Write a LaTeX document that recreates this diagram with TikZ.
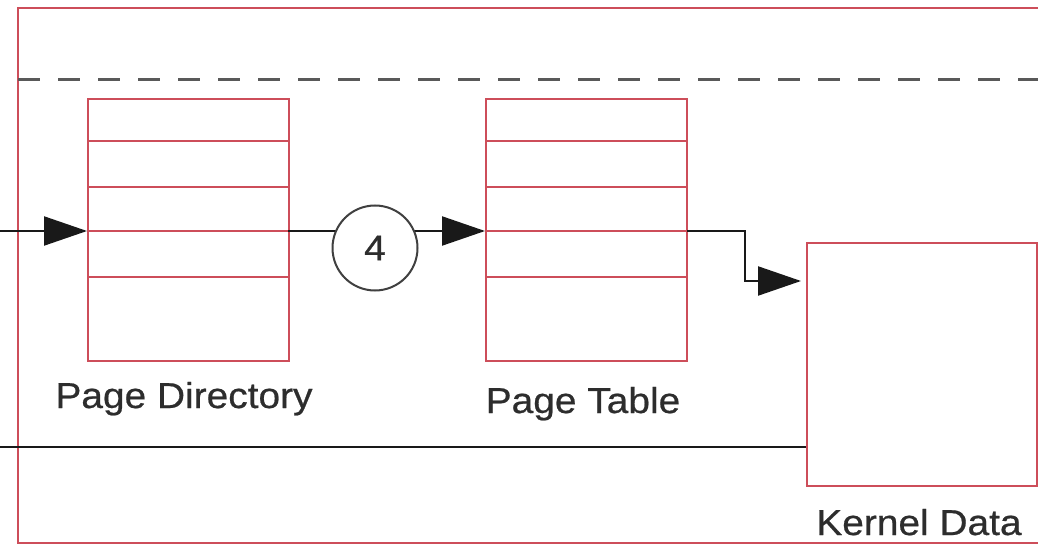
\documentclass[tikz,border=0pt]{standalone}
\usepackage{fontspec}
\usetikzlibrary{arrows.meta}
\newfontfamily\lblfont[FakeStretch=1.08,FakeBold=0.6]{Liberation Sans}
\definecolor{boxred}{RGB}{205,78,90}
\definecolor{txtgray}{RGB}{45,45,45}
\tikzset{
  tablebox/.style={draw=boxred, line width=2pt, minimum width=201pt, minimum height=262pt, anchor=north west, inner sep=0pt},
  rowline/.style={draw=boxred, line width=2pt},
  conn/.style={draw=black!90, line width=2.2pt},
  tip/.style={-{Triangle[length=43pt,width=29pt]}},
  lbl/.style={font=\lblfont\fontsize{36}{40}\selectfont, text=txtgray, anchor=base, inner sep=0pt},
  stepcircle/.style={circle, draw=black!75, line width=2pt, fill=white, minimum size=85pt, inner sep=0pt, font=\lblfont\fontsize{36}{40}\selectfont, text=txtgray}
}
\begin{document}
\begin{tikzpicture}[x=1pt,y=-1pt]
\useasboundingbox (0,0) rectangle (1038,545);
\fill[white] (0,0) rectangle (1038,545);
% outer region
\draw[draw=boxred, line width=2pt] (1060,8) -- (18,8) -- (18,543) -- (1060,543);
% dashed separator
\coordinate (dashL) at (18,80);
\coordinate (dashR) at (1040,80);
\draw[draw=black!65, line width=3pt, dash pattern=on 22pt off 18pt] (dashL) -- (dashR);
% page directory
\node[tablebox] (pd) at (87,98) {};
\foreach \y in {141,187,231,277} \draw[rowline] (87,\y) -- (288,\y);
% page table
\node[tablebox] (pt) at (485,98) {};
\foreach \y in {141,187,231,277} \draw[rowline] (485,\y) -- (687,\y);
% kernel data
\node[draw=boxred, line width=2pt, minimum width=230pt, minimum height=243pt, anchor=north west, inner sep=0pt] (kd) at (806,242) {};
% labels
\node[lbl] (pdl) at (184,408) {Page Directory};
\node[lbl] (ptl) at (583,413) {Page Table};
\node[lbl] (kdl) at (919,535) {Kernel Data};
% connectors
\coordinate (in) at (0,231);
\coordinate (pdin) at (87,231);
\coordinate (pdout) at (288,231);
\coordinate (ptin) at (485,231);
\coordinate (ptout) at (687,231);
\coordinate (bend) at (745,231);
\coordinate (kdin) at (801,281);
\coordinate (low) at (0,447);
\draw[conn, tip] (in) -- (pdin);
\draw[conn, tip] (pdout) -- (ptin);
\draw[conn, tip] (ptout) -- (bend) |- (kdin);
\draw[conn] (low) -- (kd.west |- low);
\node[stepcircle] (four) at (375,248) {4};
\end{tikzpicture}
\end{document}
